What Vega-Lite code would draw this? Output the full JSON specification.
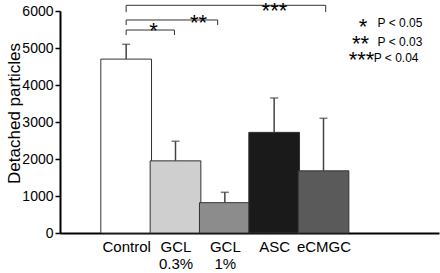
{
  "$schema": "https://vega.github.io/schema/vega-lite/v6.json",
  "width": 379,
  "height": 222,
  "autosize": "none",
  "padding": {"left": 60, "top": 11, "right": 1, "bottom": 40},
  "background": "white",
  "config": {
    "view": {"stroke": null},
    "font": "Liberation Sans",
    "axis": {"grid": false, "labelOverlap": false},
    "axisY": {"labelOverlap": false, "tickCount": 7}
  },
  "datasets": {
    "bars": [
      {"group": "Control", "pos": 1, "value": 4700, "err": 5100},
      {"group": "GCL 0.3%", "pos": 2, "value": 1950, "err": 2480},
      {"group": "GCL 1%", "pos": 3, "value": 820, "err": 1100},
      {"group": "ASC", "pos": 4, "value": 2720, "err": 3650},
      {"group": "eCMGC", "pos": 5, "value": 1680, "err": 3100}
    ],
    "brackets": [
      {"from": 1, "to": 1.979, "level": 5486, "foot": 5350},
      {"from": 1, "to": 2.855, "level": 5757, "foot": 5620},
      {"from": 1, "to": 5.045, "level": 6154, "foot": 5970}
    ],
    "feet": [
      {"at": 1, "level": 5486, "foot": 5350},
      {"at": 1.979, "level": 5486, "foot": 5350},
      {"at": 1, "level": 5757, "foot": 5620},
      {"at": 2.855, "level": 5757, "foot": 5620},
      {"at": 1, "level": 6154, "foot": 5970},
      {"at": 5.045, "level": 6154, "foot": 5970}
    ],
    "stars": [
      {"at": 1.553, "y": 5270, "label": "*"},
      {"at": 2.466, "y": 5490, "label": "**"},
      {"at": 4.005, "y": 5815, "label": "***"},
      {"at": 5.8, "y": 5378, "label": "*"},
      {"at": 5.75, "y": 4917, "label": "**"},
      {"at": 5.77, "y": 4484, "label": "***"}
    ],
    "legend": [
      {"at": 6.097, "y": 5575, "label": "P < 0.05"},
      {"at": 6.097, "y": 5053, "label": "P < 0.03"},
      {"at": 6.018, "y": 4628, "label": "P < 0.04"}
    ]
  },
  "layer": [
    {
      "data": {"name": "bars"},
      "mark": {"type": "bar", "width": 50.7, "stroke": "#333333", "strokeWidth": 1},
      "encoding": {
        "x": {
          "field": "pos", "type": "quantitative",
          "scale": {"domain": [-0.24, 7.24], "nice": false, "zero": false},
          "axis": {
            "title": null,
            "values": [1, 2, 3, 4, 5],
            "labelExpr": "split(['', 'Control', 'GCL 0.3%', 'GCL 1%', 'ASC', 'eCMGC'][datum.value], ' ')",
            "labelFontSize": 15,
            "labelColor": "black",
            "labelPadding": 6,
            "labelLineHeight": 17,
            "labelOverlap": false,
            "labelBound": false,
            "labelFlush": false,
            "ticks": false,
            "domainColor": "black",
            "domainWidth": 2
          }
        },
        "y": {
          "field": "value", "type": "quantitative",
          "scale": {"domain": [0, 6000], "nice": false},
          "axis": {
            "title": "Detached particles",
            "titleFontSize": 17,
            "titleFontWeight": "normal",
            "titleColor": "black",
            "titleX": -41,
            "titleY": 102,
            "titleAlign": "center",
            "titleBaseline": "alphabetic",
            "titleAngle": -90,
            "values": [0, 1000, 2000, 3000, 4000, 5000, 6000],
            "tickCount": 7,
            "format": "d",
            "labelOverlap": false,
            "labelFlush": false,
            "labelFontSize": 14,
            "labelColor": "black",
            "labelPadding": 2,
            "tickSize": 5,
            "tickColor": "black",
            "tickWidth": 1.5,
            "domainColor": "black",
            "domainWidth": 2
          }
        },
        "fill": {
          "field": "group", "type": "nominal",
          "scale": {
            "domain": ["Control", "GCL 0.3%", "GCL 1%", "ASC", "eCMGC"],
            "range": ["#ffffff", "#cfcfcf", "#8c8c8c", "#1a1a1a", "#5a5a5a"]
          },
          "legend": null
        }
      }
    },
    {
      "data": {"name": "bars"},
      "mark": {"type": "rule", "color": "#444444", "strokeWidth": 1.5},
      "encoding": {
        "x": {"field": "pos", "type": "quantitative"},
        "y": {"field": "value", "type": "quantitative"},
        "y2": {"field": "err"}
      }
    },
    {
      "data": {"name": "bars"},
      "mark": {"type": "tick", "orient": "horizontal", "color": "#444444", "size": 8, "thickness": 1.5},
      "encoding": {
        "x": {"field": "pos", "type": "quantitative"},
        "y": {"field": "err", "type": "quantitative"}
      }
    },
    {
      "data": {"name": "brackets"},
      "mark": {"type": "rule", "color": "#333333", "strokeWidth": 1},
      "encoding": {
        "x": {"field": "from", "type": "quantitative"},
        "x2": {"field": "to"},
        "y": {"field": "level", "type": "quantitative"}
      }
    },
    {
      "data": {"name": "feet"},
      "mark": {"type": "rule", "color": "#333333", "strokeWidth": 1},
      "encoding": {
        "x": {"field": "at", "type": "quantitative"},
        "y": {"field": "level", "type": "quantitative"},
        "y2": {"field": "foot"}
      }
    },
    {
      "data": {"name": "stars"},
      "mark": {"type": "text", "fontSize": 22, "align": "center", "baseline": "alphabetic", "color": "black"},
      "encoding": {
        "x": {"field": "at", "type": "quantitative"},
        "y": {"field": "y", "type": "quantitative"},
        "text": {"field": "label"}
      }
    },
    {
      "data": {"name": "legend"},
      "mark": {"type": "text", "fontSize": 12, "align": "left", "baseline": "alphabetic", "color": "black"},
      "encoding": {
        "x": {"field": "at", "type": "quantitative"},
        "y": {"field": "y", "type": "quantitative"},
        "text": {"field": "label"}
      }
    }
  ]
}
